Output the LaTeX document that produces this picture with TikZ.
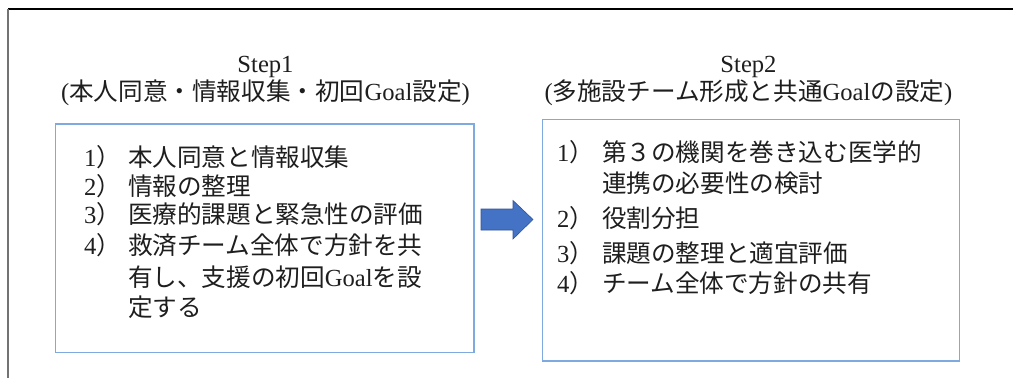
\documentclass[tikz,border=0pt]{standalone}
\usepackage{fontspec}
\setmainfont{Noto Sans CJK JP}
\newfontfamily\lat{Liberation Serif}
\newcommand{\gl}{{\lat Goal}}
\definecolor{boxblue}{HTML}{7FAADF}
\definecolor{arrfill}{HTML}{4472C4}
\definecolor{arrdraw}{HTML}{2F5597}
\definecolor{txt}{HTML}{1E1E1E}
\begin{document}
\begin{tikzpicture}[x=1pt,y=-1pt,
  every node/.style={inner sep=0pt, outer sep=0pt, text=txt},
  bodytext/.style={anchor=west, font=\fontsize{24.6}{29}\selectfont},
  titletext/.style={anchor=center, font=\fontsize{24.6}{29}\selectfont},
  stepbox/.style={draw=boxblue, line width=1.4pt}]
\useasboundingbox (0,0) rectangle (1013,378);
% outer frame (partly cropped)
\draw[black, line width=1.2pt] (8,9) -- (1013,9);
\draw[black!55, line width=2pt] (8,9) -- (8,378);
% boxes
\draw[stepbox] (55.5,124) rectangle (474,352.5);
\draw[stepbox] (542.5,119.5) rectangle (959.5,361);
% titles
\node[titletext] (s1) at (265.5,67) {\lat Step1};
\node[titletext] (t1) at (265.5,93) {{\lat(}本人同意・情報収集・初回\gl 設定{\lat)}};
\node[titletext] (s2) at (748.5,67) {\lat Step2};
\node[titletext] (t2) at (748.5,93) {{\lat(}多施設チーム形成と共通\gl の設定{\lat)}};
% left box content
\node[bodytext] (n11) at (84,157) {{\lat 1}）};
\node[bodytext] (l11) at (128,157) {本人同意と情報収集};
\node[bodytext] (n12) at (84,186) {{\lat 2}）};
\node[bodytext] (l12) at (128,186) {情報の整理};
\node[bodytext] (n13) at (84,214) {{\lat 3}）};
\node[bodytext] (l13) at (128,214) {医療的課題と緊急性の評価};
\node[bodytext] (n14) at (84,245) {{\lat 4}）};
\node[bodytext] (l14a) at (128,245) {救済チーム全体で方針を共};
\node[bodytext] (l14b) at (128,277) {有し、支援の初回\gl を設};
\node[bodytext] (l14c) at (128,307) {定する};
% right box content
\node[bodytext] (n21) at (557,152) {{\lat 1}）};
\node[bodytext] (l21a) at (602,152) {第３の機関を巻き込む医学的};
\node[bodytext] (l21b) at (602,183) {連携の必要性の検討};
\node[bodytext] (n22) at (557,218) {{\lat 2}）};
\node[bodytext] (l22) at (602,218) {役割分担};
\node[bodytext] (n23) at (557,253) {{\lat 3}）};
\node[bodytext] (l23) at (602,253) {課題の整理と適宜評価};
\node[bodytext] (n24) at (557,283) {{\lat 4}）};
\node[bodytext] (l24) at (602,283) {チーム全体で方針の共有};
% block arrow
\draw[fill=arrfill, draw=arrdraw, line width=0.6pt, line join=miter]
  (481,209) -- (513,209) -- (513,200.5) -- (533,219.5) -- (513,239) -- (513,230) -- (481,230) -- cycle;
\end{tikzpicture}
\end{document}
